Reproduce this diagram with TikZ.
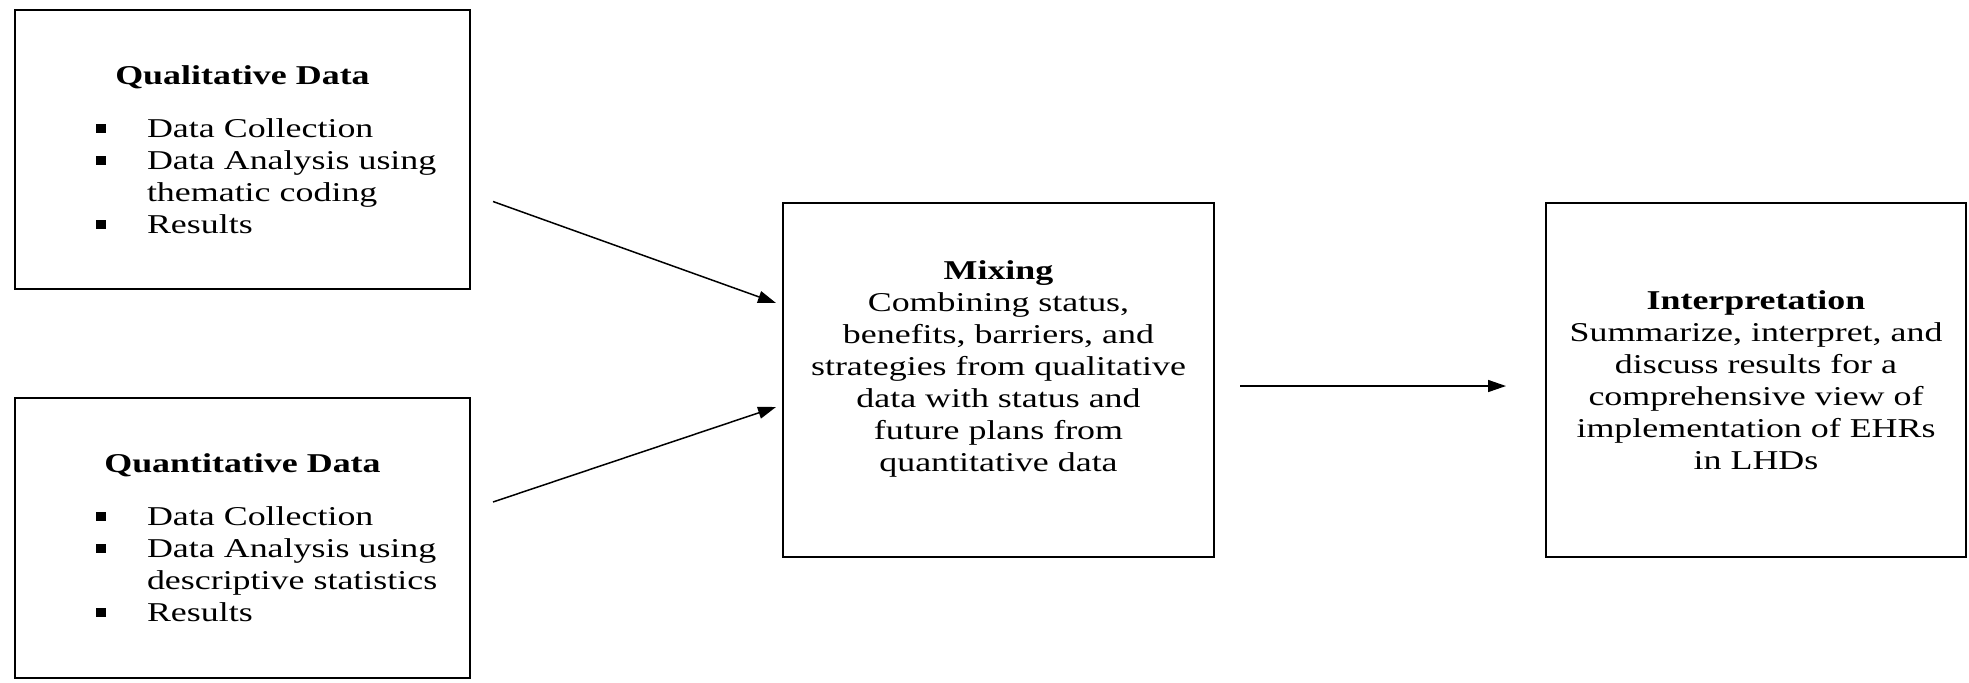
\documentclass[tikz,border=0pt]{standalone}
\usepackage{fontspec}
\setmainfont{Liberation Serif}[FakeStretch=1.32]
\usetikzlibrary{arrows.meta}
\newcommand{\sqitem}[1]{\par\noindent\hspace*{40.5pt}\makebox[25.5pt][l]{\raisebox{2.2pt}{\rule{5pt}{4.5pt}}}#1}
\newcommand{\sqmore}[1]{\par\noindent\hspace*{66pt}#1}
\begin{document}
\begin{tikzpicture}[x=0.5pt, y=-0.5pt,
  box/.style={draw=black, line width=1pt, inner sep=0pt, font=\fontsize{13.6}{16}\selectfont},
  listbox/.style={box, text width=227.5pt},
  textbox/.style={box, align=center, minimum height=177pt},
  arr/.style={-{Triangle[length=9pt,width=6pt]}, line width=0.75pt}]
\useasboundingbox (0,0) rectangle (1969,682);
\node[listbox, minimum height=139.5pt] (qual) at (242.5,149.5) {{\centering\textbf{Qualitative Data}\par}\vspace{10.5pt}
  \sqitem{Data Collection}\sqitem{Data Analysis using}\sqmore{thematic coding}\sqitem{Results}\par};
\node[listbox, minimum height=140pt] (quant) at (242.5,538) {{\centering\textbf{Quantitative Data}\par}\vspace{10.5pt}
  \sqitem{Data Collection}\sqitem{Data Analysis using}\sqmore{descriptive statistics}\sqitem{Results}\par};
\node[textbox, minimum width=215.5pt, text depth=14pt] (mix) at (998.5,380) {\textbf{Mixing}\\Combining status,\\benefits, barriers, and\\strategies from qualitative\\data with status and\\future plans from\\quantitative data};
\node[textbox, minimum width=210pt] (interp) at (1756,380) {\textbf{Interpretation}\\Summarize, interpret, and\\discuss results for a\\comprehensive view of\\implementation of EHRs\\in LHDs};
\draw[arr] ([xshift=11pt,yshift=-26pt]qual.east) -- ([xshift=-3pt,yshift=38.5pt]mix.west);
\draw[arr] ([xshift=11pt,yshift=18pt]quant.east) -- ([xshift=-3pt,yshift=-13.5pt]mix.west);
\draw[arr] ([xshift=12.5pt,yshift=-3pt]mix.east) -- ([xshift=-19.5pt,yshift=-3pt]interp.west);
\end{tikzpicture}
\end{document}
